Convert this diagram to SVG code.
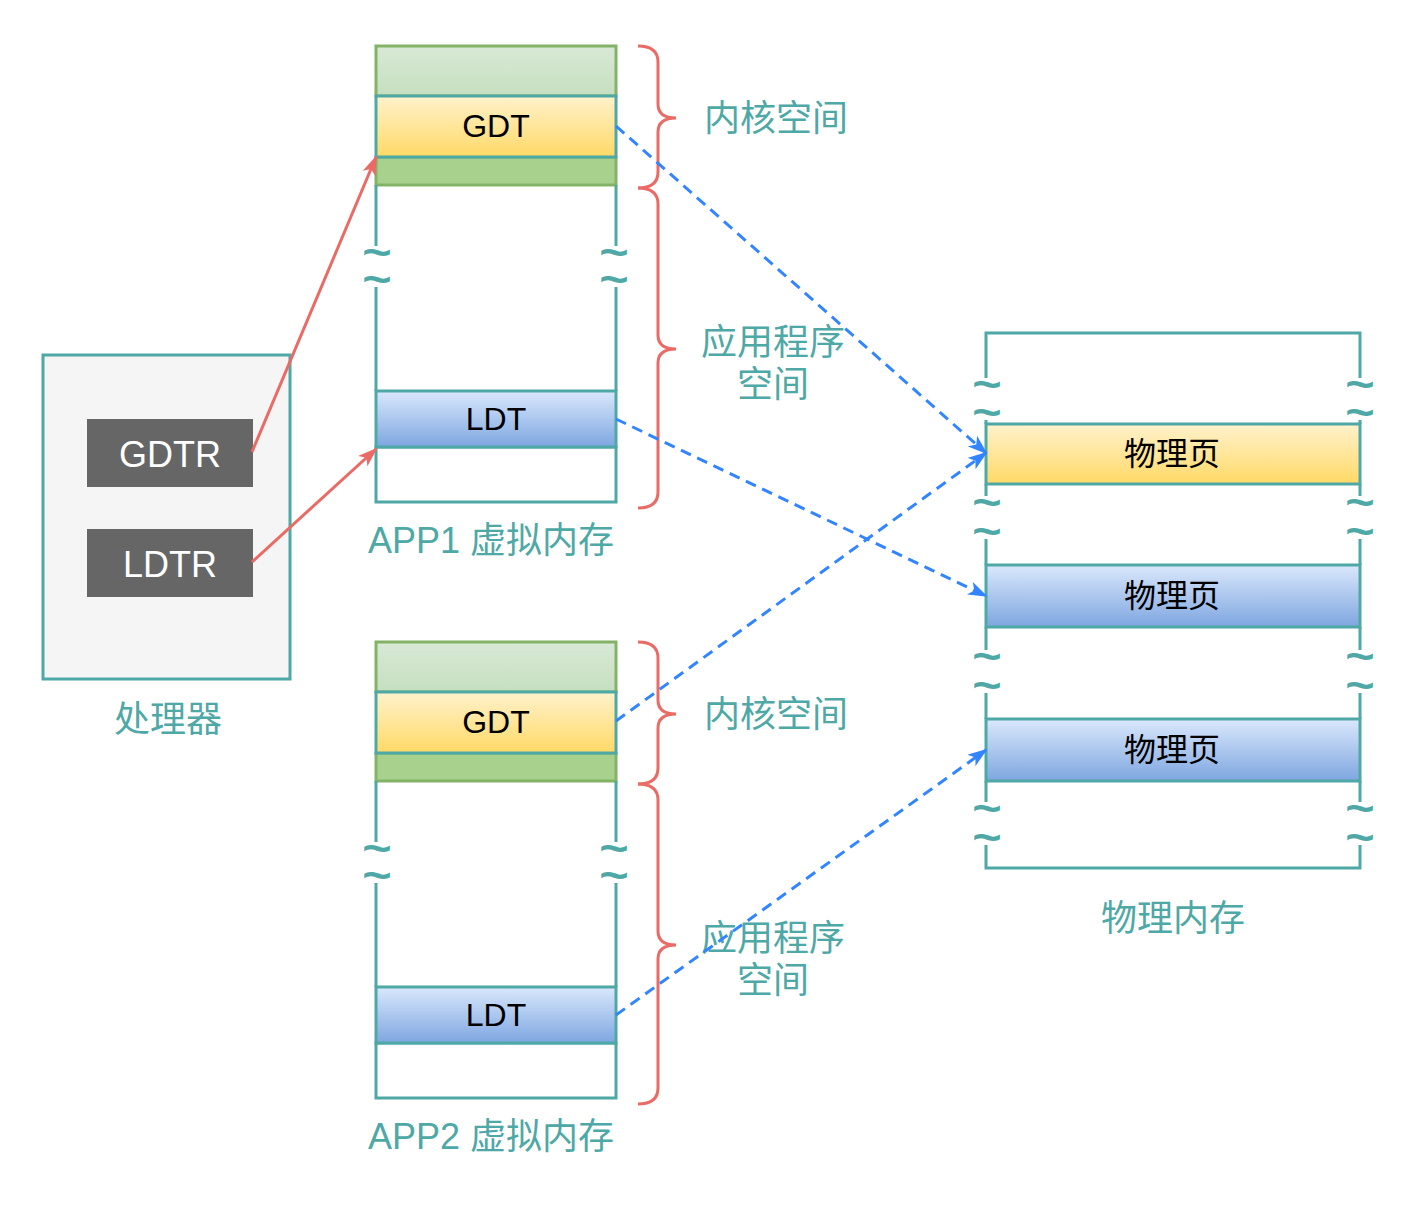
<svg xmlns="http://www.w3.org/2000/svg" width="1424" height="1214" viewBox="0 0 1424 1214">
<defs>
<linearGradient id="gY" x1="0" y1="0" x2="0" y2="1"><stop offset="0" stop-color="#fff2cc"/><stop offset="1" stop-color="#ffd966"/></linearGradient>
<linearGradient id="gB" x1="0" y1="0" x2="0" y2="1"><stop offset="0" stop-color="#dae8fc"/><stop offset="1" stop-color="#7ea6e0"/></linearGradient>
<linearGradient id="gG" x1="0" y1="0" x2="0" y2="1"><stop offset="0" stop-color="#d8e9d5"/><stop offset="1" stop-color="#c6dfc0"/></linearGradient>
<marker id="aR" viewBox="0 0 20 14" refX="18" refY="7" markerWidth="20" markerHeight="14" markerUnits="userSpaceOnUse" orient="auto"><path d="M0,0 L20,7 L0,14 L5,7 Z" fill="#ea6b66"/></marker>
<marker id="aB" viewBox="0 0 20 14" refX="18" refY="7" markerWidth="20" markerHeight="14" markerUnits="userSpaceOnUse" orient="auto"><path d="M0,0 L20,7 L0,14 L5,7 Z" fill="#3385ff"/></marker>
<style>
.t{stroke:#4ea8a6;stroke-width:3;fill:none}
.gr{stroke:#82b366;stroke-width:3}
.yl{fill:url(#gY);stroke:#4ea8a6;stroke-width:3}
.bl{fill:url(#gB);stroke:#4ea8a6;stroke-width:3}
.br{stroke:#ea6b66;stroke-width:3;fill:none}
.lbl{font-family:"Liberation Sans","Noto Sans CJK SC",sans-serif;font-size:36px;fill:#4ea8a6;text-anchor:middle;dominant-baseline:central}
.in{font-family:"Liberation Sans","Noto Sans CJK SC",sans-serif;font-size:32px;fill:#000;text-anchor:middle;dominant-baseline:central}
.reg{font-family:"Liberation Sans",sans-serif;font-size:36px;fill:#fff;text-anchor:middle;dominant-baseline:central}
.tl{font-family:"Liberation Sans",sans-serif;font-weight:bold;font-size:42px;fill:#4ea8a6;text-anchor:middle;dominant-baseline:central}
.bd{stroke:#3385ff;stroke-width:3;fill:none;stroke-dasharray:11 7;marker-end:url(#aB)}
.rd{stroke:#ea6b66;stroke-width:3;fill:none;marker-end:url(#aR)}
</style>
</defs>
<rect width="1424" height="1214" fill="#fff"/>

<g id="processor">
<rect x="43" y="355" width="247" height="324" fill="#f5f5f5" stroke="#4ea8a6" stroke-width="3"/>
<text class="lbl" x="168" y="719">处理器</text>
</g>
<g id="gdtr"><rect x="87" y="419" width="166" height="68" fill="#666666"/><text class="reg" x="170" y="454">GDTR</text></g>
<g id="ldtr"><rect x="87" y="529" width="166" height="68" fill="#666666"/><text class="reg" x="170" y="564">LDTR</text></g>

<g id="app1">
<rect x="376" y="46" width="240" height="50" fill="url(#gG)" class="gr"/>
<rect x="376" y="157" width="240" height="28" fill="#a9d18e" class="gr"/>
<path class="t" d="M376,185 V246 M616,185 V246 M376,287 V391 M616,287 V391"/>
<text class="tl" transform="translate(377,253) scale(1.2,1)"><tspan x="0">~</tspan><tspan x="0" dy="27">~</tspan></text>
<text class="tl" transform="translate(614,253) scale(1.2,1)"><tspan x="0">~</tspan><tspan x="0" dy="27">~</tspan></text>
<rect x="376" y="447" width="240" height="55" class="t"/>
<text class="lbl" x="491" y="540">APP1 虚拟内存</text>
</g>
<g id="app1-gdt"><rect x="376" y="96" width="240" height="61" class="yl"/><text class="in" x="496" y="126">GDT</text></g>
<g id="app1-ldt"><rect x="376" y="391" width="240" height="56" class="bl"/><text class="in" x="496" y="419">LDT</text></g>
<g id="app1-braces">
<path class="br" d="M638,46 Q658,46 658,62 L658,104 Q658,118 676,118 Q658,118 658,132 L658,172 Q658,188 638,188"/>
<path class="br" d="M638,188 Q658,188 658,204 L658,335 Q658,349 676,349 Q658,349 658,363 L658,492 Q658,508 638,508"/>
<text class="lbl" x="776" y="118">内核空间</text>
<text class="lbl" x="773" y="342">应用程序</text>
<text class="lbl" x="773" y="384">空间</text>
</g>

<g id="app2">
<rect x="376" y="642" width="240" height="50" fill="url(#gG)" class="gr"/>
<rect x="376" y="753" width="240" height="28" fill="#a9d18e" class="gr"/>
<path class="t" d="M376,781 V842 M616,781 V842 M376,883 V987 M616,883 V987"/>
<text class="tl" transform="translate(377,849) scale(1.2,1)"><tspan x="0">~</tspan><tspan x="0" dy="27">~</tspan></text>
<text class="tl" transform="translate(614,849) scale(1.2,1)"><tspan x="0">~</tspan><tspan x="0" dy="27">~</tspan></text>
<rect x="376" y="1043" width="240" height="55" class="t"/>
<text class="lbl" x="491" y="1136">APP2 虚拟内存</text>
</g>
<g id="app2-gdt"><rect x="376" y="692" width="240" height="61" class="yl"/><text class="in" x="496" y="722">GDT</text></g>
<g id="app2-ldt"><rect x="376" y="987" width="240" height="56" class="bl"/><text class="in" x="496" y="1015">LDT</text></g>
<g id="app2-braces">
<path class="br" d="M638,642 Q658,642 658,658 L658,700 Q658,714 676,714 Q658,714 658,728 L658,768 Q658,784 638,784"/>
<path class="br" d="M638,784 Q658,784 658,800 L658,931 Q658,945 676,945 Q658,945 658,959 L658,1088 Q658,1104 638,1104"/>
<text class="lbl" x="776" y="714">内核空间</text>
<text class="lbl" x="773" y="938">应用程序</text>
<text class="lbl" x="773" y="980">空间</text>
</g>

<g id="physical">
<path class="t" d="M986,378 V333 H1360 V378 M986,420 V424 M1360,420 V424 M986,484 V496 M1360,484 V496 M986,539 V565 M1360,539 V565 M986,627 V650 M1360,627 V650 M986,693 V719 M1360,693 V719 M986,781 V802 M1360,781 V802 M986,845 V868 H1360 V845"/>
<text class="tl" transform="translate(987,385) scale(1.2,1)"><tspan x="0">~</tspan><tspan x="0" dy="28">~</tspan></text>
<text class="tl" transform="translate(1360,385) scale(1.2,1)"><tspan x="0">~</tspan><tspan x="0" dy="28">~</tspan></text>
<text class="tl" transform="translate(987,503) scale(1.2,1)"><tspan x="0">~</tspan><tspan x="0" dy="29">~</tspan></text>
<text class="tl" transform="translate(1360,503) scale(1.2,1)"><tspan x="0">~</tspan><tspan x="0" dy="29">~</tspan></text>
<text class="tl" transform="translate(987,657) scale(1.2,1)"><tspan x="0">~</tspan><tspan x="0" dy="29">~</tspan></text>
<text class="tl" transform="translate(1360,657) scale(1.2,1)"><tspan x="0">~</tspan><tspan x="0" dy="29">~</tspan></text>
<text class="tl" transform="translate(987,809) scale(1.2,1)"><tspan x="0">~</tspan><tspan x="0" dy="29">~</tspan></text>
<text class="tl" transform="translate(1360,809) scale(1.2,1)"><tspan x="0">~</tspan><tspan x="0" dy="29">~</tspan></text>
<text class="lbl" x="1173" y="918">物理内存</text>
</g>
<g id="page1"><rect x="986" y="424" width="374" height="60" class="yl"/><text class="in" x="1172" y="454">物理页</text></g>
<g id="page2"><rect x="986" y="565" width="374" height="62" class="bl"/><text class="in" x="1172" y="596">物理页</text></g>
<g id="page3"><rect x="986" y="719" width="374" height="62" class="bl"/><text class="in" x="1172" y="750">物理页</text></g>

<g id="connectors">
<line class="rd" x1="252" y1="452" x2="376" y2="157"/>
<line class="rd" x1="252" y1="562" x2="376" y2="449"/>
<line class="bd" x1="616" y1="126" x2="986" y2="453"/>
<line class="bd" x1="616" y1="419" x2="986" y2="596"/>
<line class="bd" x1="616" y1="721" x2="986" y2="453"/>
<line class="bd" x1="616" y1="1015" x2="986" y2="750"/>
</g>
</svg>
